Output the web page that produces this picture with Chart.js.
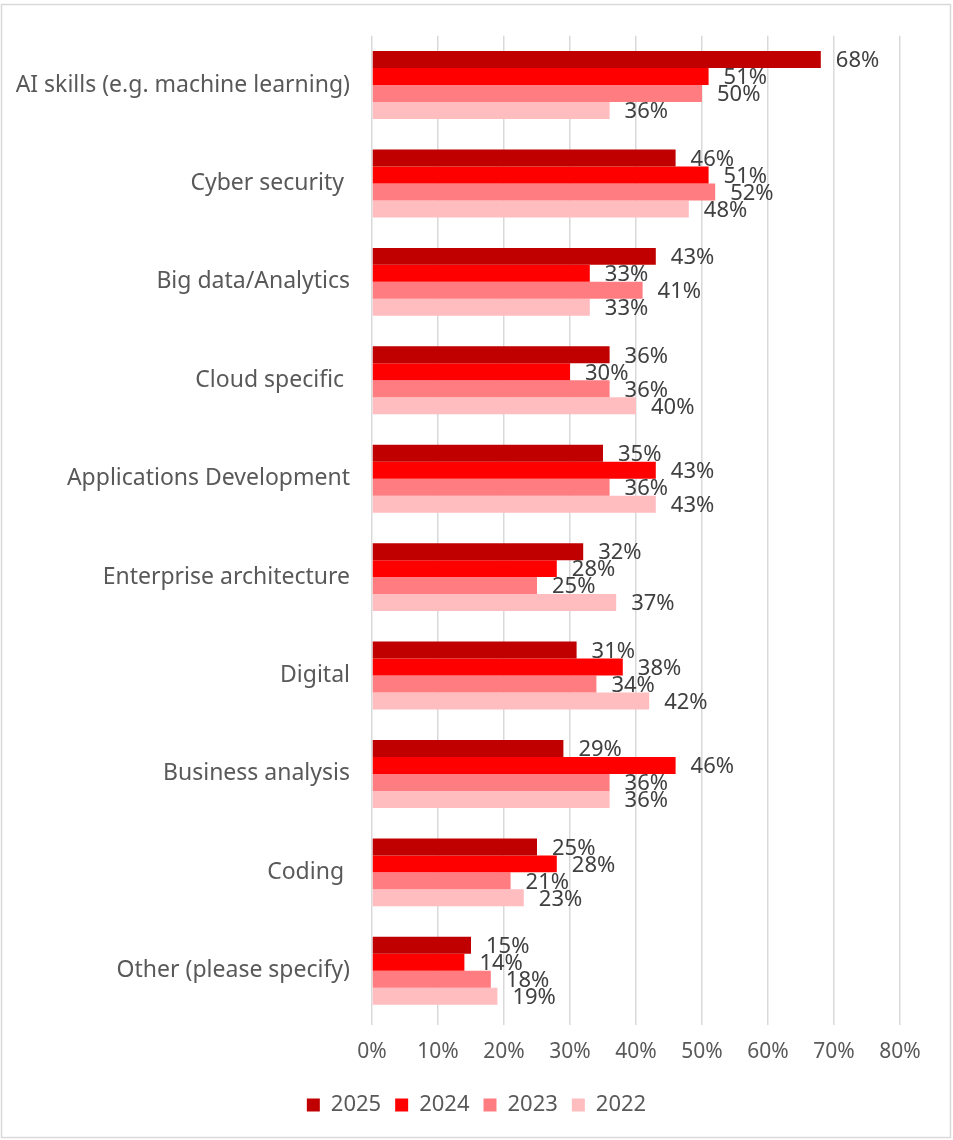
<!DOCTYPE html>
<html>
<head>
<meta charset="utf-8">
<script src="https://cdn.jsdelivr.net/npm/chart.js@4.4.1/dist/chart.umd.min.js"></script>
<style>
  html, body { margin: 0; padding: 0; background: #ffffff; }
  #wrap { position: relative; width: 953px; height: 1140px; }
  canvas { display: block; }
</style>
</head>
<body>
<div id="wrap"><canvas id="chart" width="953" height="1140"></canvas></div>
<script>
// Skill areas surveyed, top to bottom
const categories = [
  'AI skills (e.g. machine learning)',
  'Cyber security ',
  'Big data/Analytics',
  'Cloud specific ',
  'Applications Development',
  'Enterprise architecture',
  'Digital',
  'Business analysis',
  'Coding ',
  'Other (please specify)'
];

// Share of respondents per year (%)
const values2025 = [68, 46, 43, 36, 35, 32, 31, 29, 25, 15];
const values2024 = [51, 51, 33, 30, 43, 28, 38, 46, 28, 14];
const values2023 = [50, 52, 41, 36, 36, 25, 34, 36, 21, 18];
const values2022 = [36, 48, 33, 40, 43, 37, 42, 36, 23, 19];

const seriesNames = ['2025', '2024', '2023', '2022'];
const seriesColors = ['#C00000', '#FF0000', '#FF7C80', '#FFBDC0'];

// Axis ticks
const xTickValues = [0, 10, 20, 30, 40, 50, 60, 70, 80];

const FONT = "'Noto Sans', 'DejaVu Sans', sans-serif";

// Thin grey frame around the whole chart
const framePlugin = {
  id: 'frame',
  beforeDraw(chart) {
    const ctx = chart.ctx;
    ctx.save();
    ctx.fillStyle = '#ffffff';
    ctx.fillRect(0, 0, chart.width, chart.height);
    ctx.strokeStyle = '#d9d9d9';
    ctx.lineWidth = 1.5;
    ctx.strokeRect(1.5, 4.5, 949, 1133);
    ctx.restore();
  }
};

// Percentage labels just past the end of each bar
const valueLabelPlugin = {
  id: 'valueLabels',
  afterDatasetsDraw(chart) {
    const ctx = chart.ctx;
    ctx.save();
    ctx.font = '22px ' + FONT;
    ctx.fillStyle = '#404040';
    ctx.textAlign = 'left';
    ctx.textBaseline = 'middle';
    chart.data.datasets.forEach((ds, di) => {
      const meta = chart.getDatasetMeta(di);
      meta.data.forEach((bar, i) => {
        ctx.fillText(ds.data[i] + '%', bar.x + 15, bar.y + 1.5);
      });
    });
    ctx.restore();
  }
};

const datasets = [values2025, values2024, values2023, values2022].map((vals, i) => ({
  label: seriesNames[i],
  data: vals,
  backgroundColor: seriesColors[i],
  borderWidth: 0,
  barPercentage: 1.0,
  categoryPercentage: 0.69
}));

new Chart(document.getElementById('chart'), {
  type: 'bar',
  data: { labels: categories, datasets },
  options: {
    indexAxis: 'y',
    responsive: false,
    animation: false,
    devicePixelRatio: 1,
    layout: { padding: { top: 32, right: 0, left: 0, bottom: 14 } },
    scales: {
      x: {
        min: 0,
        max: 80,
        afterBuildTicks(scale) {
          scale.ticks = xTickValues.map(v => ({ value: v }));
        },
        afterFit(scale) { scale.height = 60; },
        grid: {
          color: '#d9d9d9',
          lineWidth: 1.5,
          drawTicks: true,
          tickLength: 5
        },
        border: { display: false },
        ticks: {
          color: '#595959',
          font: { family: FONT, size: 21 },
          padding: 14,
          callback: v => v + '%'
        }
      },
      y: {
        afterFit(scale) { scale.width = 372; },
        grid: { display: false, drawTicks: false },
        border: { display: false },
        ticks: {
          color: '#595959',
          font: { family: FONT, size: 23 },
          padding: 22
        }
      },
      // empty margin on the right of the plot
      yMargin: {
        axis: 'y',
        type: 'category',
        position: 'right',
        afterFit(scale) { scale.width = 53; },
        grid: { display: false, drawTicks: false },
        border: { display: false },
        ticks: { display: false }
      }
    },
    plugins: {
      legend: {
        position: 'bottom',
        labels: {
          color: '#595959',
          font: { family: FONT, size: 22 },
          boxWidth: 13,
          boxHeight: 13,
          padding: 14
        }
      },
      tooltip: { enabled: false }
    }
  },
  plugins: [framePlugin, valueLabelPlugin]
});
</script>
</body>
</html>
